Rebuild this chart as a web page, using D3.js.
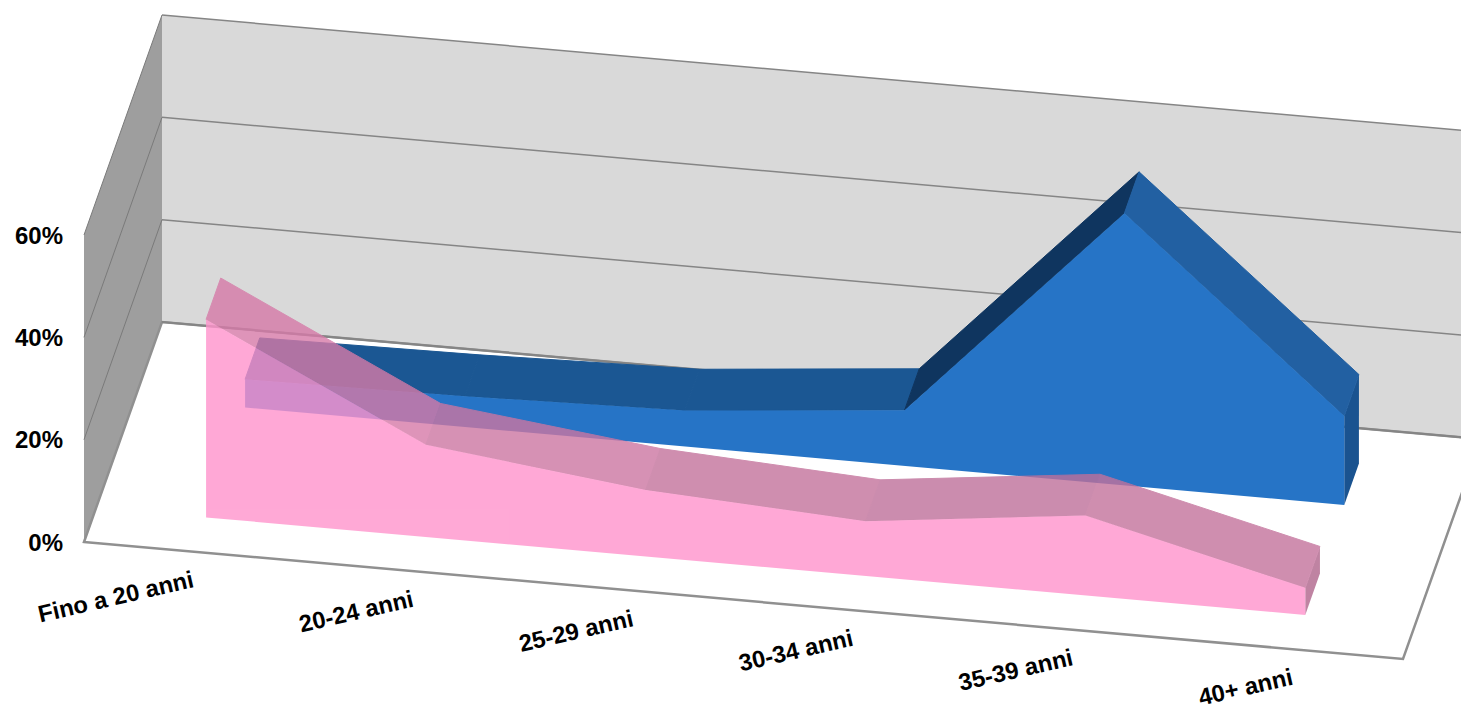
<!DOCTYPE html>
<html>
<head>
<meta charset="utf-8">
<script src="https://cdn.jsdelivr.net/npm/d3@7"></script>
<style>
  html, body { margin: 0; padding: 0; background: #fff; overflow: hidden; }
  text { font-family: "Liberation Sans", Arial, sans-serif; font-weight: bold; fill: #000; }
</style>
</head>
<body>
<div id="Canvas"></div>
<script>
// data
const categories = ["Fino a 20 anni", "20-24 anni", "25-29 anni", "30-34 anni", "35-39 anni", "40+ anni"]
const pinkValues = [38.7, 18, 13, 10.7, 15.6, 5.3]
const blueValues = [5.5, 6, 7, 10.9, 53.2, 17.4]
const valueTicks = [0, 20, 40, 60]

// shade of each top segment
const pinkTopShades = ["#d67aa8", "#cc76a2", "#c4729c", "#bf709a", "#c4729c"]
const blueTopShades = ["#1b5793", "#1b5793", "#1b5793", "#0f355f", "#2260a2"]

const width = 1461, height = 708

let svg = d3.select("#Canvas")
    .append("svg")
    .attr("width", width)
    .attr("height", height)

// oblique projection: along the front edge, into the depth, and up
const xScale = d3.scalePoint().domain(categories).range([0, 1]).padding(0.5)
const alongX = d3.scaleLinear().domain([0, 1]).range([84, 1403])
const alongY = d3.scaleLinear().domain([0, 1]).range([542, 659])
const depthX = d3.scaleLinear().domain([0, 1]).range([0, 78])
const depthY = d3.scaleLinear().domain([0, 1]).range([0, -220])
const vScale = d3.scaleLinear().domain([0, 60]).range([0, 307])

const project = (t, d, v) => [
    alongX(t) + depthX(d),
    alongY(t) + depthY(d) - vScale(v)
]
const polygon = d3.line()
const poly = (pts) => polygon(pts) + "Z"

// walls and floor
svg.append("path").attr("fill", "#d9d9d9")
    .attr("d", poly([project(0, 1, 0), project(1.05, 1, 0), project(1.05, 1, 60), project(0, 1, 60)]))
svg.append("path").attr("fill", "#9e9e9e")
    .attr("d", poly([project(0, 0, 0), project(0, 1, 0), project(0, 1, 60), project(0, 0, 60)]))
svg.append("path").attr("fill", "#fff")
    .attr("stroke", "#909090").attr("stroke-width", 2.5)
    .attr("d", poly([project(0, 0, 0), project(1, 0, 0), project(1, 1, 0), project(0, 1, 0)]))

// gridlines
valueTicks.forEach((v) => {
    svg.append("path").attr("fill", "none").attr("stroke", "#858585").attr("stroke-width", v == 0 ? 2 : 1.5)
        .attr("d", polygon([project(0, 1, v), project(1.05, 1, v)]))
    if (v > 0) {
        svg.append("path").attr("fill", "none").attr("stroke", "#7a7a7a").attr("stroke-width", 1)
            .attr("d", polygon([project(0, 0, v), project(0, 1, v)]))
    }
})

// one 3D area: front face, top segments, right end
function drawArea(values, d0, d1, o) {
    let g = svg.append("g").attr("opacity", o.opacity)
    let ts = categories.map((c) => xScale(c))
    let last = ts.length - 1
    g.append("path").attr("fill", o.side)
        .attr("d", poly([project(ts[last], d0, 0), project(ts[last], d1, 0), project(ts[last], d1, values[last]), project(ts[last], d0, values[last])]))
    o.tops.forEach((shade, i) => {
        g.append("path").attr("fill", shade).attr("stroke", shade).attr("stroke-width", 1)
            .attr("d", poly([project(ts[i], d0, values[i]), project(ts[i], d1, values[i]), project(ts[i + 1], d1, values[i + 1]), project(ts[i + 1], d0, values[i + 1])]))
    })
    let front = ts.map((t, i) => project(t, d0, values[i]))
    front.push(project(ts[last], d0, 0), project(ts[0], d0, 0))
    g.append("path").attr("fill", o.front).attr("d", poly(front))
}

drawArea(blueValues, 0.656, 0.844, { front: "#2674c6", side: "#1a5390", tops: blueTopShades, opacity: 1 })
drawArea(pinkValues, 0.156, 0.344, { front: "#ff93cc", side: "#b0658c", tops: pinkTopShades, opacity: 0.8 })

// value axis sits on the vertical front edge
const yAxisScale = d3.scaleLinear().domain([0, 60]).range([alongY(0), alongY(0) - vScale(60)])
svg.append("g")
    .attr("transform", "translate(63,0.5)")
    .call(d3.axisLeft(yAxisScale).tickValues(valueTicks).tickSize(0).tickPadding(0).tickFormat((d) => d + "%"))
    .call((g) => g.select(".domain").remove())
    .selectAll("text")
    .style("font-size", "24px")
    .style("font-family", '"Liberation Sans", Arial, sans-serif')
    .style("font-weight", "bold")

// category labels, end-anchored under each position
svg.selectAll("text.cat")
    .data(categories)
    .enter()
    .append("text")
    .attr("class", "cat")
    .attr("text-anchor", "end")
    .attr("font-size", 23.8)
    .attr("transform", (d) => `translate(${alongX(xScale(d)) + 1},${alongY(xScale(d)) + 35}) rotate(-13)`)
    .text((d) => d)
</script>
</body>
</html>
